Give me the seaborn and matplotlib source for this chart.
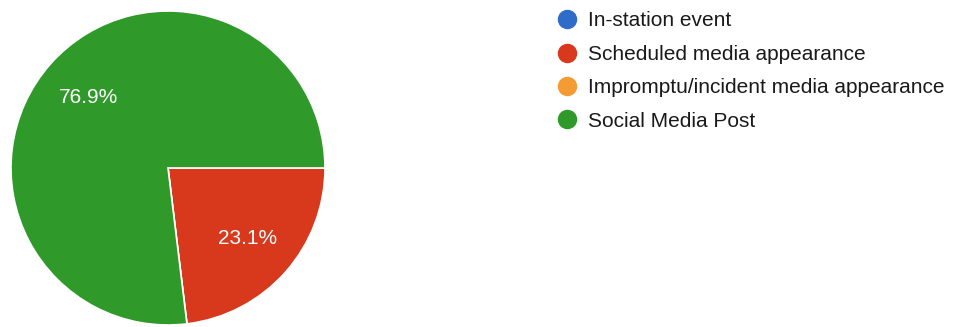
"""Pie chart of engagement types, recreated with matplotlib/seaborn."""

import matplotlib.pyplot as plt
import seaborn as sns
from matplotlib.lines import Line2D

categories = [
    "In-station event",
    "Scheduled media appearance",
    "Impromptu/incident media appearance",
    "Social Media Post",
]
counts = [0, 3, 0, 10]
colors = ["#2f6bc9", "#d8381c", "#f59b34", "#2f9a2a"]

sns.set_theme(style="white")
plt.rcParams["font.family"] = ["Liberation Sans", "DejaVu Sans"]

fig = plt.figure(figsize=(9.58, 3.27), dpi=100)

# pie: centre ~ (168, 168) px from top-left, radius ~157 px
ax = fig.add_axes([11 / 958, 2 / 327, 314 / 958, 314 / 327])


def pct_label(p):
    return f"{p:.1f}%" if p > 0 else ""


ax.pie(
    counts,
    colors=colors,
    startangle=0,
    counterclock=False,
    autopct=pct_label,
    pctdistance=0.68,
    radius=1,
    wedgeprops={"edgecolor": "white", "linewidth": 1.2},
    textprops={"color": "white", "fontsize": 15},
)
ax.set_xlim(-1, 1)
ax.set_ylim(-1, 1)
ax.set_aspect("equal")

handles = [
    Line2D([], [], marker="o", linestyle="", markersize=13,
           markerfacecolor=c, markeredgecolor=c)
    for c in colors
]
leg = fig.legend(
    handles,
    categories,
    loc="upper left",
    bbox_to_anchor=(557 / 958, 1 - 11.5 / 327),
    frameon=False,
    fontsize=15,
    handletextpad=0.5,
    labelspacing=0.69,
    handlelength=1.0,
    borderaxespad=0,
    borderpad=0,
)
for t in leg.get_texts():
    t.set_color("#1a1a1a")

fig.savefig("out.png", dpi=100)
plt.close(fig)
